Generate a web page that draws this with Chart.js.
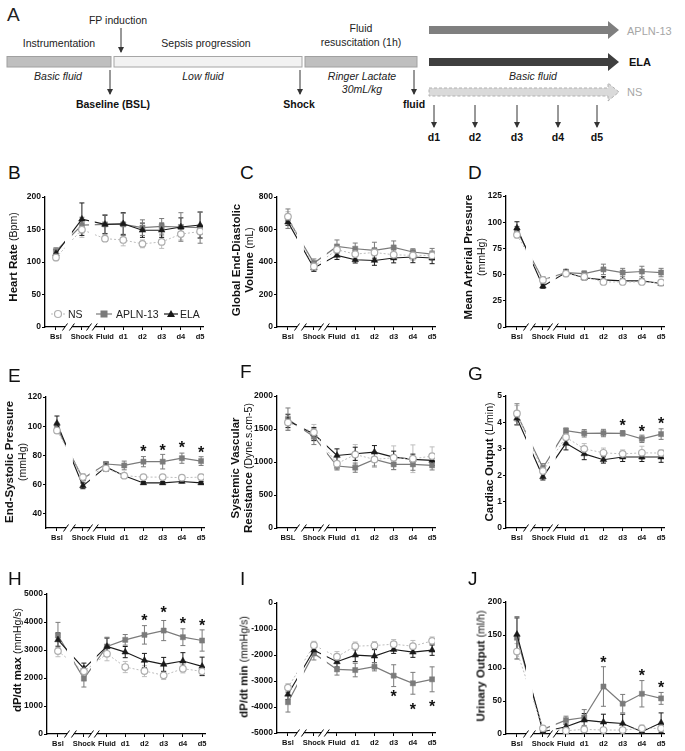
<!DOCTYPE html>
<html>
<head>
<meta charset="utf-8">
<script src="https://cdn.jsdelivr.net/npm/chart.js@4.4.1/dist/chart.umd.min.js"></script>
<style>
  body { margin:0; width:685px; height:751px; position:relative; overflow:hidden; background:#fff;
         font-family:"Liberation Sans", Arial, sans-serif; }
  .letter { position:absolute; font-size:19px; line-height:19px; color:#111; }
  .ytitle { position:absolute; transform:translate(-50%,-50%) rotate(-90deg); white-space:nowrap;
            text-align:center; font-size:11.5px; line-height:13px; font-weight:bold; color:#111; }
  .ytitle span { font-weight:normal; font-size:10.5px; }
</style>
</head>
<body>

<!-- panel A : protocol schema -->
<svg width="685" height="145" style="position:absolute;left:0;top:0" font-family="Liberation Sans, Arial, sans-serif" font-size="10.5" fill="#222">
  <defs>
    <marker id="ah" markerWidth="6" markerHeight="6" refX="5" refY="3" orient="auto">
      <path d="M0,0 L6,3 L0,6 z" fill="#333"/>
    </marker>
  </defs>
  <text x="7" y="21" font-size="19">A</text>
  <text x="118" y="24" text-anchor="middle">FP induction</text>
  <line x1="121" y1="28" x2="121" y2="52" stroke="#333" marker-end="url(#ah)"/>
  <text x="59" y="47" text-anchor="middle">Instrumentation</text>
  <text x="206" y="47" text-anchor="middle">Sepsis progression</text>
  <text x="361" y="32" text-anchor="middle">Fluid</text>
  <text x="361" y="46" text-anchor="middle">resuscitation (1h)</text>
  <rect x="7" y="56.5" width="104" height="10.5" fill="#bfbfbf" stroke="#a0a0a0"/>
  <rect x="114" y="56.5" width="188" height="10.5" fill="#f2f2f2" stroke="#a6a6a6"/>
  <rect x="305" y="56.5" width="112" height="10.5" fill="#bfbfbf" stroke="#a0a0a0"/>
  <g font-style="italic" text-anchor="middle">
    <text x="58" y="80">Basic fluid</text>
    <text x="203" y="80">Low fluid</text>
    <text x="362" y="80">Ringer Lactate</text>
    <text x="362" y="93">30mL/kg</text>
    <text x="533" y="80">Basic fluid</text>
  </g>
  <g stroke="#333" marker-end="url(#ah)">
    <line x1="110" y1="70" x2="110" y2="94"/>
    <line x1="300" y1="70" x2="300" y2="94"/>
    <line x1="414" y1="70" x2="414" y2="94"/>
    <line x1="434" y1="105" x2="434" y2="127"/>
    <line x1="475" y1="105" x2="475" y2="127"/>
    <line x1="517" y1="105" x2="517" y2="127"/>
    <line x1="558" y1="105" x2="558" y2="127"/>
    <line x1="597" y1="105" x2="597" y2="127"/>
  </g>
  <g font-weight="bold" text-anchor="middle" fill="#111">
    <text x="113" y="108">Baseline (BSL)</text>
    <text x="299" y="108">Shock</text>
    <text x="414" y="108">fluid</text>
    <text x="434" y="141">d1</text>
    <text x="475" y="141">d2</text>
    <text x="517" y="141">d3</text>
    <text x="558" y="141">d4</text>
    <text x="597" y="141">d5</text>
  </g>
  <polygon points="429,26 608,26 608,21 619,30 608,39 608,34 429,34" fill="#7f7f7f"/>
  <polygon points="429,58 608,58 608,53 619,62 608,71 608,66 429,66" fill="#3f3f3f"/>
  <polygon points="429,88 608,88 608,83 619,92 608,101 608,96 429,96" fill="#dadada" stroke="#b0b0b0" stroke-dasharray="3,2"/>
  <text x="627" y="35" font-size="11" fill="#a6a6a6">APLN-13</text>
  <text x="629" y="66" font-size="11" font-weight="bold" fill="#111">ELA</text>
  <text x="627" y="96" font-size="11" fill="#a6a6a6">NS</text>
</svg>

<!-- legend of panel B -->
<svg width="170" height="18" style="position:absolute;left:45px;top:305px;z-index:5" font-family="Liberation Sans, Arial, sans-serif" font-size="10.5" fill="#222">
  <line x1="6" y1="9" x2="20" y2="9" stroke="#bdbdbd" stroke-dasharray="2,2"/>
  <circle cx="13" cy="9" r="3.5" fill="#fff" stroke="#b0b0b0" stroke-width="1.2"/>
  <text x="23" y="13">NS</text>
  <line x1="51" y1="9" x2="67" y2="9" stroke="#7b7b7b" stroke-width="1.2"/>
  <rect x="55.5" y="5.5" width="7" height="7" fill="#7b7b7b"/>
  <text x="71" y="13">APLN-13</text>
  <line x1="119" y1="9" x2="133" y2="9" stroke="#1a1a1a" stroke-width="1.2"/>
  <polygon points="126,5 130,12 122,12" fill="#1a1a1a"/>
  <text x="135" y="13">ELA</text>
</svg>

<script>
// ---- data (mean values and error bars) ----
const days = ["Bsl", "Shock", "Fluid", "d1", "d2", "d3", "d4", "d5"];
const svrDays = ["BSL", "Shock", "Fluid", "d1", "d2", "d3", "d4", "d5"];

// B  Heart rate
const hrTicks = [0, 50, 100, 150, 200];
const hrNS = [107, 150, 136, 134, 128, 131, 143, 147];
const hrNSErr = [5, 12, 4, 9, 6, 10, 9, 10];
const hrAPLN = [117, 157, 158, 158, 153, 155, 154, 153];
const hrAPLNErr = [5, 12, 15, 17, 12, 12, 22, 24];
const hrELA = [113, 166, 158, 159, 149, 149, 154, 157];
const hrELAErr = [6, 25, 14, 17, 11, 11, 14, 20];

// C  Global end-diastolic volume
const gedvTicks = [0, 200, 400, 600, 800];
const gedvNS = [680, 373, 476, 449, 459, 445, 441, 441];
const gedvNSErr = [30, 30, 25, 25, 30, 25, 30, 30];
const gedvAPLN = [667, 394, 496, 482, 472, 490, 462, 449];
const gedvAPLNErr = [60, 25, 40, 35, 50, 40, 20, 35];
const gedvELA = [646, 363, 441, 414, 410, 425, 431, 425];
const gedvELAErr = [20, 20, 25, 20, 30, 30, 35, 35];

// D  Mean arterial pressure
const mapTicks = [0, 25, 50, 75, 100, 125];
const mapNS = [88, 45, 51, 48, 43, 43, 43, 42.5];
const mapNSErr = [3, 2, 3, 2, 2, 2, 2, 2];
const mapAPLN = [92, 45, 52, 51, 55, 52, 53, 52];
const mapAPLNErr = [4, 3, 3, 2.5, 5, 4, 5, 4];
const mapELA = [94.5, 39, 52, 47, 45, 44, 44, 41.5];
const mapELAErr = [6, 2, 3, 2, 3, 2, 2, 2];

// E  End-systolic pressure
const espTicks = [40, 60, 80, 100, 120];
const espNS = [97, 65, 71, 66, 65, 65, 64.6, 65];
const espNSErr = [2, 2, 2, 1.5, 1.5, 1.5, 1.5, 2];
const espAPLN = [99, 64, 74, 73, 75.6, 75.6, 78, 76];
const espAPLNErr = [3, 3, 1.5, 3, 3.5, 5, 3.5, 3];
const espELA = [102, 59, 72, 66, 61, 61, 62, 61];
const espELAErr = [5, 2, 3, 1, 1, 1, 1, 1];
const espStars = [null, null, null, null, 85, 85.5, 88, 84.5];

// F  Systemic vascular resistance
const svrTicks = [0, 500, 1000, 1500, 2000];
const svrNS = [1600, 1450, 975, 1115, 1040, 1065, 1050, 1090];
const svrNSErr = [100, 120, 90, 150, 120, 180, 210, 140];
const svrAPLN = [1650, 1385, 940, 915, 1040, 965, 965, 950];
const svrAPLNErr = [170, 120, 60, 70, 100, 80, 90, 70];
const svrELA = [1625, 1425, 1100, 1125, 1150, 1075, 1040, 1025];
const svrELAErr = [100, 100, 100, 100, 100, 90, 80, 80];

// G  Cardiac output
const coTicks = [0, 1, 2, 3, 4, 5];
const coNS = [4.34, 2.16, 3.44, 3.0, 2.85, 2.81, 2.85, 2.84];
const coNSErr = [0.3, 0.2, 0.2, 0.2, 0.18, 0.15, 0.25, 0.12];
const coAPLN = [4.31, 2.28, 3.69, 3.59, 3.6, 3.59, 3.38, 3.56];
const coAPLNErr = [0.4, 0.16, 0.1, 0.14, 0.14, 0.1, 0.14, 0.2];
const coELA = [4.16, 1.94, 3.21, 2.81, 2.59, 2.69, 2.69, 2.69];
const coELAErr = [0.25, 0.12, 0.25, 0.22, 0.13, 0.17, 0.17, 0.2];
const coStars = [null, null, null, null, null, 4.0, 3.79, 4.09];

// H  dP/dt max
const dpmaxTicks = [0, 1000, 2000, 3000, 4000, 5000];
const dpmaxNS = [2962, 2239, 2867, 2393, 2251, 2097, 2334, 2239];
const dpmaxNSErr = [200, 200, 250, 200, 200, 150, 150, 150];
const dpmaxAPLN = [3519, 1979, 3128, 3365, 3543, 3697, 3460, 3341];
const dpmaxAPLNErr = [470, 300, 330, 190, 330, 360, 300, 380];
const dpmaxELA = [3365, 2334, 3128, 2927, 2630, 2488, 2607, 2417];
const dpmaxELAErr = [250, 200, 300, 200, 250, 250, 300, 330];
const dpmaxStars = [null, null, null, null, 4170, 4467, 4076, 4017];

// I  dP/dt min
const dpminTicks = [-5000, -4000, -3000, -2000, -1000, 0];
const dpminNS = [-3253, -1620, -2066, -1658, -1633, -1582, -1658, -1454];
const dpminNSErr = [150, 150, 200, 160, 150, 180, 220, 150];
const dpminAPLN = [-3814, -1939, -2551, -2577, -2449, -2793, -3087, -2934];
const dpminAPLNErr = [380, 250, 220, 260, 160, 420, 420, 480];
const dpminELA = [-3508, -1811, -2258, -2003, -2041, -1786, -1888, -1811];
const dpminELAErr = [200, 150, 200, 250, 250, 150, 200, 200];
const dpminStars = [null, null, null, null, null, -3469, -3954, -3852];

// J  Urinary output
const uoTicks = [0, 50, 100, 150, 200];
const uoNS = [125, 8.6, 5, 7, 6, 6, 8.6, 8.6];
const uoNSErr = [12, 3, 3, 4, 3, 3, 5, 5];
const uoAPLN = [146, 7, 21, 25, 72, 46, 61, 54];
const uoAPLNErr = [32, 3, 6, 12, 30, 14, 20, 9];
const uoELA = [151, 3.5, 11, 21, 18, 16, 3.5, 17];
const uoELAErr = [25, 2, 4, 10, 12, 14, 3, 15];
const uoStars = [null, null, null, null, 113, null, 94, 76];

// ---- layout of the broken x axis (Prism style) ----
const dayPos = [0, 1.35, 2.55, 3.5, 4.5, 5.5, 6.5, 7.5];
const axisBreaks = [[0.47, 0.83], [1.72, 2.02]];
const FONT = "'Liberation Sans', Arial, sans-serif";

function errPlugin(errs, stars) {
  return {
    id: "errbars",
    beforeDatasetsDraw(chart) {
      const ctx = chart.ctx, x = chart.scales.x, y = chart.scales.y;
      ctx.save();
      chart.data.datasets.forEach((ds, i) => {
        ctx.strokeStyle = ds.borderColor;
        ctx.lineWidth = 1;
        ds.data.forEach((pt, j) => {
          const e = errs[i][j];
          const px = x.getPixelForValue(pt.x);
          const y0 = y.getPixelForValue(pt.y - e), y1 = y.getPixelForValue(pt.y + e);
          ctx.beginPath();
          ctx.moveTo(px, y0); ctx.lineTo(px, y1);
          ctx.moveTo(px - 2.5, y0); ctx.lineTo(px + 2.5, y0);
          ctx.moveTo(px - 2.5, y1); ctx.lineTo(px + 2.5, y1);
          ctx.stroke();
        });
      });
      ctx.restore();
    },
    afterDatasetsDraw(chart) {
      const ctx = chart.ctx, a = chart.chartArea, x = chart.scales.x, y = chart.scales.y;
      ctx.save();
      // white gaps where the axis is broken
      axisBreaks.forEach(([g0, g1]) => {
        const p0 = x.getPixelForValue(g0), p1 = x.getPixelForValue(g1);
        ctx.fillStyle = "#fff";
        ctx.fillRect(p0, a.top - 2, p1 - p0, a.bottom - a.top + 3);
        ctx.strokeStyle = "#000";
        ctx.lineWidth = 1;
        [p0, p1].forEach(p => {
          ctx.beginPath();
          ctx.moveTo(p - 2.5, a.bottom + 3.5);
          ctx.lineTo(p + 2.5, a.bottom - 3.5);
          ctx.stroke();
        });
      });
      // significance stars
      if (stars) {
        ctx.fillStyle = "#111";
        ctx.font = "bold 16px " + FONT;
        ctx.textAlign = "center";
        ctx.textBaseline = "alphabetic";
        stars.forEach((s, j) => {
          if (s === null) return;
          ctx.fillText("*", x.getPixelForValue(dayPos[j]), y.getPixelForValue(s) + 9);
        });
      }
      ctx.restore();
    }
  };
}

function addPanel(p) {
  const w = 206, h = (p.bottom - p.top) + 6 + 18;
  const cv = document.createElement("canvas");
  cv.style.cssText = `position:absolute;left:${p.axis - 40}px;top:${p.top - 6}px;width:${w}px;height:${h}px`;
  cv.width = w; cv.height = h;
  document.body.appendChild(cv);

  const pts = vals => vals.map((v, i) => ({ x: dayPos[i], y: v }));
  const axisGrid = { display: true, drawOnChartArea: false, drawTicks: true, tickLength: 3, color: "#000", lineWidth: 1 };

  new Chart(cv, {
    type: "line",
    data: {
      datasets: [
        { label: "NS", data: pts(p.ns), borderColor: "#bdbdbd", borderWidth: 1, borderDash: [2, 2],
          pointStyle: "circle", pointRadius: 3.3, pointBackgroundColor: "#fff",
          pointBorderColor: "#aeaeae", pointBorderWidth: 1.2 },
        { label: "ELA", data: pts(p.ela), borderColor: "#1a1a1a", borderWidth: 1.1,
          pointStyle: "triangle", pointRadius: 3.8, pointBackgroundColor: "#1a1a1a",
          pointBorderColor: "#1a1a1a", pointBorderWidth: 0.5 },
        { label: "APLN-13", data: pts(p.apln), borderColor: "#7b7b7b", borderWidth: 1.2,
          pointStyle: "rect", pointRadius: 3.6, pointBackgroundColor: "#7b7b7b",
          pointBorderColor: "#7b7b7b", pointBorderWidth: 0.5 }
      ]
    },
    options: {
      responsive: false,
      animation: false,
      devicePixelRatio: 1,
      layout: { padding: { top: 6, right: 8, left: 0, bottom: 0 } },
      plugins: { legend: { display: false }, tooltip: { enabled: false } },
      elements: { line: { tension: 0 } },
      scales: {
        x: {
          type: "linear", min: -0.57, max: 7.65,
          afterBuildTicks: s => { s.ticks = dayPos.map(v => ({ value: v })); },
          afterFit: s => { s.height = 18; },
          ticks: { callback: (v, i) => p.labels[i], font: { family: FONT, size: 7.5, weight: "bold" },
                   color: "#111", maxRotation: 0, autoSkip: false, padding: 2 },
          grid: axisGrid,
          border: { display: true, color: "#000", width: 1.2 }
        },
        y: {
          min: p.min, max: p.max,
          afterBuildTicks: s => { s.ticks = p.ticks.map(v => ({ value: v })); },
          afterFit: s => { s.width = 40; },
          ticks: { callback: v => String(v), font: { family: FONT, size: 8.5, weight: "bold" },
                   color: "#111", padding: 1 },
          grid: axisGrid,
          border: { display: true, color: "#000", width: 1.3 }
        }
      }
    },
    plugins: [errPlugin([p.nsErr, p.elaErr, p.aplnErr], p.stars)]
  });

  const L = document.createElement("div");
  L.className = "letter";
  L.style.left = p.letterX + "px"; L.style.top = p.letterY + "px";
  L.textContent = p.letter;
  document.body.appendChild(L);

  const T = document.createElement("div");
  T.className = "ytitle";
  T.style.left = p.titleX + "px"; T.style.top = p.titleY + "px";
  T.innerHTML = p.title;
  document.body.appendChild(T);
}

function initialize() {
  addPanel({ letter: "B", letterX: 8, letterY: 163, axis: 45, top: 197, bottom: 327,
    titleX: 13, titleY: 257, title: "Heart Rate <span>(Bpm)</span>",
    labels: days, ticks: hrTicks, min: 0, max: 200,
    ns: hrNS, nsErr: hrNSErr, apln: hrAPLN, aplnErr: hrAPLNErr, ela: hrELA, elaErr: hrELAErr });
  addPanel({ letter: "C", letterX: 240, letterY: 163, axis: 277, top: 197, bottom: 327,
    titleX: 243, titleY: 260, title: "Global End-Diastolic<br>Volume <span>(mL)</span>",
    labels: days, ticks: gedvTicks, min: 0, max: 800,
    ns: gedvNS, nsErr: gedvNSErr, apln: gedvAPLN, aplnErr: gedvAPLNErr, ela: gedvELA, elaErr: gedvELAErr });
  addPanel({ letter: "D", letterX: 468, letterY: 163, axis: 506, top: 196, bottom: 327,
    titleX: 475, titleY: 257, title: "Mean Arterial Pressure<br><span>(mmHg)</span>",
    labels: days, ticks: mapTicks, min: 0, max: 125,
    ns: mapNS, nsErr: mapNSErr, apln: mapAPLN, aplnErr: mapAPLNErr, ela: mapELA, elaErr: mapELAErr });

  addPanel({ letter: "E", letterX: 8, letterY: 366, axis: 46, top: 397, bottom: 528,
    titleX: 16, titleY: 462, title: "End-Systolic Pressure<br><span>(mmHg)</span>",
    labels: days, ticks: espTicks, min: 30, max: 120, stars: espStars,
    ns: espNS, nsErr: espNSErr, apln: espAPLN, aplnErr: espAPLNErr, ela: espELA, elaErr: espELAErr });
  addPanel({ letter: "F", letterX: 240, letterY: 362, axis: 277, top: 396, bottom: 528,
    titleX: 242, titleY: 468, title: "Systemic Vascular<br>Resistance <span>(Dyne.s.cm-5)</span>",
    labels: svrDays, ticks: svrTicks, min: 0, max: 2000,
    ns: svrNS, nsErr: svrNSErr, apln: svrAPLN, aplnErr: svrAPLNErr, ela: svrELA, elaErr: svrELAErr });
  addPanel({ letter: "G", letterX: 468, letterY: 364, axis: 506, top: 396, bottom: 528,
    titleX: 489, titleY: 462, title: "Cardiac Output <span>(L/min)</span>",
    labels: days, ticks: coTicks, min: 0, max: 5, stars: coStars,
    ns: coNS, nsErr: coNSErr, apln: coAPLN, aplnErr: coAPLNErr, ela: coELA, elaErr: coELAErr });

  addPanel({ letter: "H", letterX: 8, letterY: 569, axis: 47, top: 594, bottom: 734,
    titleX: 17, titleY: 660, title: "dP/dt max <span>(mmHg/s)</span>",
    labels: days, ticks: dpmaxTicks, min: 0, max: 5000, stars: dpmaxStars,
    ns: dpmaxNS, nsErr: dpmaxNSErr, apln: dpmaxAPLN, aplnErr: dpmaxAPLNErr, ela: dpmaxELA, elaErr: dpmaxELAErr });
  addPanel({ letter: "I", letterX: 240, letterY: 569, axis: 277, top: 603, bottom: 733,
    titleX: 244, titleY: 667, title: "dP/dt min <span>(mmHg/s)</span>",
    labels: days, ticks: dpminTicks, min: -5000, max: 0, stars: dpminStars,
    ns: dpminNS, nsErr: dpminNSErr, apln: dpminAPLN, aplnErr: dpminAPLNErr, ela: dpminELA, elaErr: dpminELAErr });
  addPanel({ letter: "J", letterX: 468, letterY: 569, axis: 506, top: 602, bottom: 734,
    titleX: 481, titleY: 666, title: "Urinary Output <span>(ml/h)</span>",
    labels: days, ticks: uoTicks, min: 0, max: 200, stars: uoStars,
    ns: uoNS, nsErr: uoNSErr, apln: uoAPLN, aplnErr: uoAPLNErr, ela: uoELA, elaErr: uoELAErr });
}

document.addEventListener("DOMContentLoaded", initialize);
</script>
</body>
</html>
